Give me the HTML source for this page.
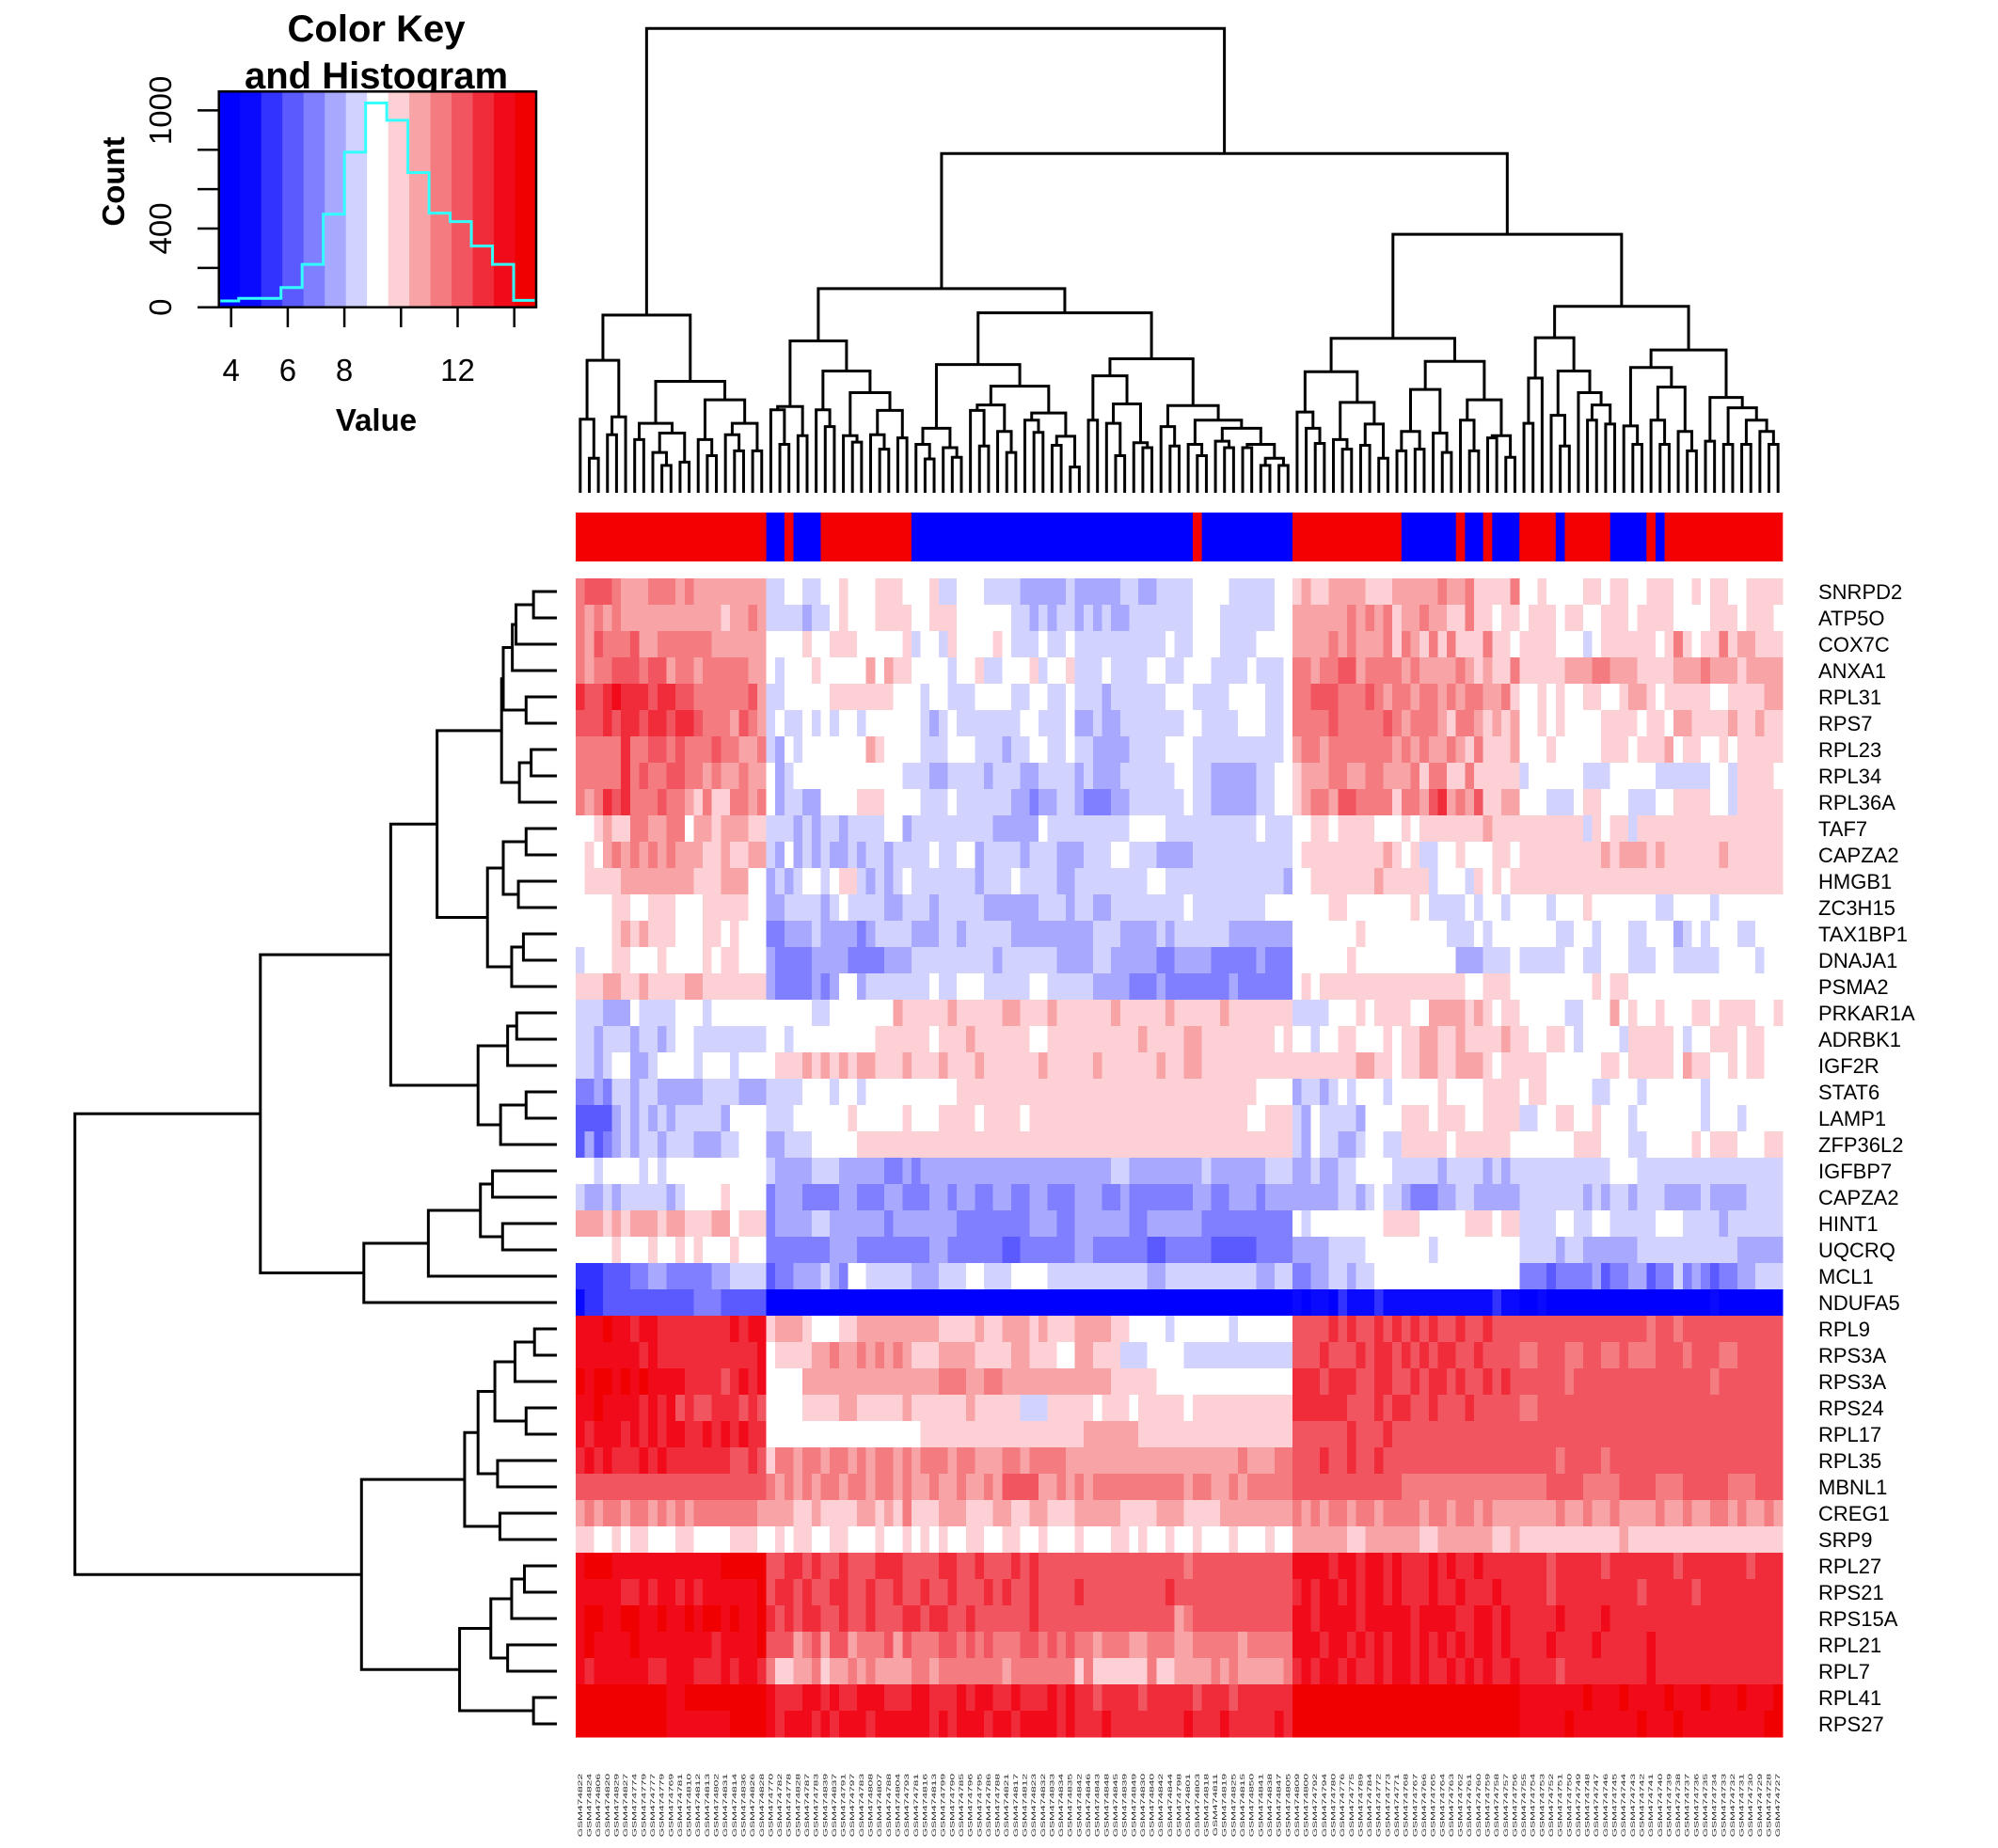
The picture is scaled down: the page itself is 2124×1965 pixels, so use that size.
<!DOCTYPE html>
<html><head><meta charset="utf-8"><title>Heatmap</title>
<style>html,body{margin:0;padding:0;background:#fff}svg{display:block;font-family:"Liberation Sans",Arial,sans-serif}</style>
</head><body>
<svg id="chart" xmlns="http://www.w3.org/2000/svg" width="2124" height="1965" viewBox="0 0 2124 1965">
<rect width="2124" height="1965" fill="#fff"/>
<g id="key">
  <text x="400" y="44" font-size="40" font-weight="bold" text-anchor="middle">Color Key</text>
  <text x="400" y="94" font-size="40" font-weight="bold" text-anchor="middle">and Histogram</text>
  <g id="keyBands"></g>
  <g id="keyHist"></g>
  <rect x="232.7" y="97.3" width="337.3" height="229.4" fill="none" stroke="#000" stroke-width="2.5"/>
  <g id="keyAxes"></g>
  <text x="400" y="458" font-size="33" font-weight="bold" text-anchor="middle">Value</text>
  <text transform="translate(132,193) rotate(-90)" font-size="33" font-weight="bold" text-anchor="middle">Count</text>
</g>
<g id="colDendro"></g>
<g id="colBar"></g>
<g id="rowDendro"></g>
<g id="cells" shape-rendering="crispEdges"></g>
<g id="rowLabs"></g>
<g id="colLabs"></g>
</svg>
<script>
// ---------- data ----------
const histCounts = [32,45,45,100,218,473,788,1038,950,684,478,435,311,218,35];
const breakStart = 3.57;
const breakStep = 0.747;
const bandColors = ["#0000ff","#0a0aff","#3333ff","#5a5aff","#7f7fff","#a8a8ff","#d2d2ff","#ffffff","#fcd0d4","#f8a3a6","#f47b7f","#f05560","#f02c3a","#f00a1a","#f00000"];
const xTickValues = [4,6,8,10,12,14];
const xTickLabels = ["4","6","8","","12",""];
const yTickValues = [0,200,400,600,800,1000];
const yTickLabels = ["0","","400","","","1000"];

const rowNames = ["SNRPD2","ATP5O","COX7C","ANXA1","RPL31","RPS7","RPL23","RPL34","RPL36A","TAF7","CAPZA2","HMGB1","ZC3H15","TAX1BP1","DNAJA1","PSMA2","PRKAR1A","ADRBK1","IGF2R","STAT6","LAMP1","ZFP36L2","IGFBP7","CAPZA2","HINT1","UQCRQ","MCL1","NDUFA5","RPL9","RPS3A","RPS3A","RPS24","RPL17","RPL35","MBNL1","CREG1","SRP9","RPL27","RPS21","RPS15A","RPL21","RPL7","RPL41","RPS27"];
const segLengths = [21,16,18,24,12,13,29];
const rowLevels = [
"abbba999aaa9a99999999|6677667787778887|778667776666555556|555556655666677776666677|898899998889|9999a99a8888a|77877778878877888778788778888",
"a9a9a99999999999899a9|6666566787778888|778887777776656566|565655666666677766666677|999999a9a9a8|99a9988a88788|78887887788878888777788878887",
"a9baaab99aaaaaa999999|7777877888777778|677687777876667667|666666666676677766667777|9999a9a999a8|a98a8a888a887|88887776788888878a8788a899888",
"a9aabbbabb9aa9aaaaa99|7677787777797988|777767786677786778|666766667766777666676667|aa9aabb9aaaa|9a9999a98988a|88888999aa9998888999a99989999",
"cbbcdcccbccbbaaaaaab9|6677777888888877|767766677776677667|666566666677766667777667|aabbbaaaba9a|a9aa9a9aa99a8|77878778877899878888877888899",
"bbbcbccbccbccbaaa9ba9|6766767677677777|765676666666776667|556556666666776666777667|aaaabaaaaaba|9aaa98aa98989|77878777788887887998888988988",
"aaaaacaabbabaaabaa99a|6576777777798777|766677766656677667|665555666677766666666667|9aa9aaaaaaa9|a9a99a98a8889|77787777788878889788778788888",
"aaaaacabaabbaa9a99a99|7567777777777776|665566665666556666|565556666667766555556677|8999aa99aa99|9a8aa88a88888|67777776667777766666677688887",
"a9acbcaaabaa98a88aa9a|7566557777888777|766676666665545566|544455666666766555556677|89aa9bbaaaa8|aa9bc9a9b8899|77766678877766677888877688888",
"778988aa99aa799899988|6665656656666775|666666666555557666|666666777766666666667666|778878888777|8788888889888|88888886878868888888888888888",
"7879a9a9a9a999889889|6575656556566566|667667756666566655|566677666555566666666666|788888888898|7866778777887|88888888898999898888889888888",
"7888899999999888999778|5656776788656567|666666656667666655|666666667766666666666665|778888888988|8886777687878|88888888888888888888888888888",
"777788778887778888877|5566665676666556|665666665555556665|665566666666766666666777|777788777777|7876666767767|77767778777777766777767777777",
"777789898887778878777|4455565555456666|555665666665555555|556665555656666665555555|777777787777|7777766676777|77776677677766777567677766777",
"677788777877778788777|5444455554444555|666666666566666655|556655555445555444445444|777777877777|7777775556667|66666776677766677666667777677",
"888998898888998888888|5444454577566666|667667776666677666|665555444544444445444444|787888888888|8888888778887|77777777878877777777777777777",
"666555766667776777777|7777766777777798|888898888899888988|888898888898888898888888|666677787888|8779999898788|77777667779787787778878888778",
"665666566567766666666|7767777777778888|887888988888877888|888888898888998888888878|776778877787|8899889888898|87788767777688888767788878877",
"665677556777767776777|7888989898998889|888988898888889888|889888888988998888888888|888888899887|8899889998788|88877777788788888798877878877",
"445466566555556666555|6666777677677777|777778888888888888|888888888888888888887777|566567677767|7777877778888|78877777667776777777677777777",
"333356565656666657777|6667777778777778|777888878888788888|888888888888888888877888|657666657777|8887888778888|66778877877767777777677767777",
"353456566566655566777|5566677777888888|888888888888888888|888888888888888888888888|657665567766|8888878888887|77777788877766777778788877788",
"776777767677777777777|6555566655555445|455555555555555555|555566555555556555555666|556556677776|6666566665656|66666666667776666666666666666",
"655656666656777787777|4555444455444554|445545544554455444|555445444444455445554555|555556656766|5444556655555|66666665656656665555655556666",
"999898999899888997888|4555566555555455|555554444444455544|555555445555554444444444|767777777788|8877777888788|66667766776666677766665666666",
"777787778778787778777|4444444555444444|445544444433444444|554444443344444333334444|555566667777|7776777777777|66665665555556666666666655555",
"222333445544444556666|3445556547766666|555666776667777666|666666665566666666665566|445566566777|7777777777777|44434444534455344645434455666",
"122333333333344433333|0000000000000000|000000000000000000|000000000000000000000000|101102111211|1111111111211|00100000000000000000010000000",
"dddeddcddccccccccdcdd|8999877788999999|999888898899989888|999988777767777776777777|bbbbcbcbbcbc|bcbcbbcbbcbbb|bbbbbbbbbbbbbbabbabbbbbbbbbbb",
"dddddddcdcccccccccccd|7888899a99a9a9a9|888999988889988877|998886667777666666666666|bbbcbbbcbccb|cbcbccbbcbbbb|aabbbaabbaabaaabbbabbbaabbbbb",
"edeedededdddccccbcdcd|7777999999999999|999aaa99aa99999999|999988888777777777777777|cccbcccbbccb|bcbccbcbbcbcb|bbbbbabbbbbbbbbbbbbbbabbbbbbb",
"ddeddddcdcdbcbbcccbcb|7777888899888889|888888988888666888|887888788888788888888888|ccccccbbbcbc|cbbcbbbcbbbbb|aabbbbbbbbbbbbbbbbbbbbbbbbbbb",
"dcdddcdcdcddccdcdcdcc|7777777777777777|788888888888888888|899999988888888888888888|bbbbbbcbbbcb|bbbbbbbbbbbbb|bbbbbbbbbbbbbbbbbbbbbbbbbbbbb",
"cdcdcccdcdcccccccbbcb|8aa9aa9aa9a9aa9a|9aaa9aa999aa9aaaa9|999999999999999999a999aa|bbbcbbcbbcbb|bbbbbbbbbbbbb|bbbbabbbbabbbbbbbbbbbbbbbbbbb",
"bbbbbbbbbbbbbbbbbbbbb|a9a9a9aa9aa9aa9a|99a99a99a9bbbb99a9|a9aaaaaaaaaa9aa99a9aaaaa|bbbbbbbbbbbb|aaaaaaaaaaaaa|aaabbbbaaaabbbbaaabbbbbaaabbb",
"9a9aa9aa9a9a9aaaaaaa9|999889888899898a|888999888998899888|999998888999888899999999|a9a9aa9aa9aa|aa9aa9aa9a999|9999a99a99a9999a99a99aa9a99a9",
"887787887778877778887|7878877887778778|787877887788778777|877788787787787778777877|999999889999|9988999999889|88888888888988888888888888888",
"deeeddddddddddddeeeee|bbccbcbbcbbbcccb|bbbccbbcbbbcbcbbbb|bbbbbbbbbbbbabbbbbbbbbbb|ddddcddcddcd|cccdcdccdcccc|cccbcccccbcccccccbcccccccbccc",
"dddddccdcddcdcdddddde|bccbcbbccbbcbbcb|bcbbcbbbcbcbbcbbbb|cbbbbbbbbbcbbbbbbbbbbbbb|cdcddcdcddcd|cccdccdcccdcc|cccbcccccccccbcccccbccccccccc",
"deeddeeddeddedeededde|cbcbccbbcbbcbbbc|cbccbbcbbbbbbcbbbb|bbbbbbbbbbb9abbbbbbbbbbb|ddcddddcdddd|dcddddccddcdc|ccccdccccdccccccccccccccccccc",
"deddddeddddddddcdddde|bbb9ab9bb9aaab9b|aaabbababaaabbabab|aa9aaa99aaa99aaaaa9aaaaa|dddcddcdcdcd|dcdcdcdcddcdc|cccdccccdcccccdcccccccccccccc",
"dcddddddccdddcccdcddc|a8899a899a9a9999|aa9aaaaaaa9aaaaaaa|8a888888a889999a9a99999a|cdcddcdccdcd|dcdccdcdcdccd|ccccbcccccccccdcccccccccccccc",
"eeeeeeeeeeddeeeeeeeee|dcccddcdccdddccc|ddcccdcddccdcccdcd|ccbccccbcccccbcccbcccccc|eeeeeeeeeeee|eeeeeeeeeeeee|dddddddedddeddddedddedddeddde",
"eeeeeeeeeedddddddeeee|dcdddcdcdddcdddd|ddcdcdddcddcddddcd|cccdccccccccdcccdcccccdc|eeeeeeeeeeee|eeeeeeeeeeeee|dddddedddddddedddeddddddddde"
];
const groupRuns = [["R",21],["B",2],["R",1],["B",3],["R",10],["B",31],["R",1],["B",10],["R",12],["B",6],["R",1],["B",2],["R",1],["B",3],["R",4],["B",1],["R",5],["B",4],["R",1],["B",1],["R",13]];
const colSuffixes = ("822 824 806 820 829 827 774 779 777 779 769 781 810 812 813 802 831 814 836 "+
"826 828 770 782 778 828 787 783 839 837 791 797 783 808 807 788 804 793 781 "+
"816 813 799 790 785 796 795 786 788 821 817 812 823 832 833 834 835 842 846 "+
"843 848 845 839 849 830 840 842 844 798 801 803 818 811 819 825 815 850 841 "+
"838 847 805 809 800 792 794 780 776 775 789 784 772 773 771 768 767 766 765 "+
"764 763 762 761 760 759 758 757 756 755 754 753 752 751 750 749 748 747 746 "+
"745 744 743 742 741 740 739 738 737 736 735 734 733 732 731 730 729 728 727").split(" ");
const colTree = [88,
 [975,
  [1115,[1297,0,[1418,0,0]],[1290,[1345,0,0],0]],
  [1180,[1310,[1360,0,0],[1340,[1400,0,[1440,0,0]],[1430,0,0]]],
        [1237,[1360,0,[1410,0,0]],[1310,[1345,0,[1395,0,0]],[1395,0,0]]]]],
 [475,
  [893,
   [1055,[1258,[1268,0,[1375,0,0]],[1348,0,0]],
         [1148,[1268,0,[1320,0,0]],[1215,[1348,0,[1368,0,0]],[1270,[1345,0,[1390,0,0]],[1355,0,0]]]]],
   [968,
    [1128,[1325,[1375,0,[1420,0,0]],[1385,0,[1415,0,0]]],
          [1195,[1253,[1270,0,[1380,0,0]],[1335,0,[1400,0,0]]],[1278,[1300,0,[1338,0,0]],[1350,[1378,0,0],[1445,0,0]]]]],
    [1110,[1163,[1300,0,0],[1250,[1310,0,[1410,0,0]],[1370,0,[1385,0,0]]]],
          [1255,[1320,0,[1380,0,0]],[1300,[1375,0,[1410,0,0]],[1325,[1365,0,[1385,0,0]],[1375,[1385,0,0],[1418,[1440,0,0],[1440,0,0]]]]]]]]],
  [725,
   [1047,
    [1150,[1275,0,[1325,0,[1372,0,0]]],[1245,[1360,0,[1390,0,0]],[1312,[1378,0,0],[1418,0,0]]]],
    [1118,[1205,[1335,[1395,0,0],[1390,0,0]],[1340,0,[1400,0,0]]],[1237,[1300,0,[1395,0,0]],[1348,[1355,0,0],[1415,0,0]]]]],
   [948,
    [1045,[1170,[1310,0,0],0],[1148,[1285,0,[1380,0,0]],[1215,0,[1253,[1300,0,0],[1312,0,0]]]]],
    [1083,[1137,[1318,0,[1375,0,0]],[1198,[1300,0,[1375,0,0]],[1335,0,[1395,0,0]]]],
          [1230,[1365,0,0],[1262,[1375,0,0],[1300,[1375,0,0],[1335,0,[1375,0,0]]]]]]]]]];
const rowTree = [55,
 [607,
  [995,
   [1133,
    [1325,[1330,[1357,[1368,[1420,0,0],0],0],[1398,0,0]],[1378,[1413,0,0],0]],
    [1283,[1330,[1398,0,0],[1375,0,0]],[1355,[1390,0,0],0]]],
   [1255,[1343,[1370,0,0],0],[1322,[1398,0,0],0]]],
  [915,[1107,[1262,[1298,0,0],[1328,0,0]],0],0]],
 [908,
  [1215,[1255,[1305,[1365,[1423,0,0],0],[1398,0,0]],[1313,0,0]],[1320,0,0]],
  [1200,[1293,[1355,[1393,0,0],0],[1343,0,0]],[1420,0,0]]]];

// ---------- geometry ----------
const NS = "http://www.w3.org/2000/svg";
const HX0 = 612, HX1 = 1895, HY0 = 615, HY1 = 1847;
const KX0 = 232.7, KX1 = 570, KY0 = 97.3, KY1 = 326.7;
const nCols = 133, nRows = rowNames.length;
const cw = (HX1 - HX0) / nCols, rh = (HY1 - HY0) / nRows;
const keyX = v => 245.7 + (v - 4) * 30.1;
const keyY = c => KY1 - c * 0.2093;
const colX = i => HX0 + cw * (i + 0.5);
const rowY = j => HY0 + rh * (j + 0.5);
const colMergeY = z => z / 2.91;
const rowMergeX = z => 60 + z / 2.8;
function mk(tag, attrs, parent) { const e = document.createElementNS(NS, tag); for (const k in attrs) e.setAttribute(k, attrs[k]); parent.appendChild(e); return e; }
function levelValue(ch) { const L = parseInt(ch, 16); return breakStart + breakStep * (L + 0.5); }
function valueColor(v) { let b = Math.floor((v - breakStart) / breakStep); b = Math.max(0, Math.min(bandColors.length - 1, b)); return bandColors[b]; }

// ---------- key ----------
const kb = document.getElementById("keyBands");
bandColors.forEach((c, i) => {
  const a = Math.max(KX0, keyX(breakStart + i * breakStep));
  const b = i === bandColors.length - 1 ? KX1 : keyX(breakStart + (i + 1) * breakStep);
  const r = mk("rect", {x: a, y: KY0, width: b - a + 0.5, height: KY1 - KY0, fill: c}, kb);
  
  
});
let hp = "";
histCounts.forEach((c, i) => {
  const a = Math.max(KX0 + 1.5, keyX(breakStart + i * breakStep) - 1.5), b = Math.min(KX1 - 1.5, keyX(breakStart + (i + 1) * breakStep) - 1.5);
  hp += (i === 0 ? "M" : "L") + a + "," + keyY(c) + " L" + b + "," + keyY(c) + " ";
});
const hl = mk("path", {d: hp, fill: "none", stroke: "#33ffff", "stroke-width": 3}, document.getElementById("keyHist"));


const ka = document.getElementById("keyAxes");
xTickValues.forEach((v, i) => {
  const t = mk("line", {x1: keyX(v), x2: keyX(v), y1: KY1, y2: 348, stroke: "#000", "stroke-width": 2.5}, ka);
  
  
  if (xTickLabels[i]) {
    const tx = mk("text", {x: keyX(v), y: 405, "font-size": 33, "text-anchor": "middle"}, ka);
    tx.textContent = xTickLabels[i];
    
    
  }
});
yTickValues.forEach((v, i) => {
  const t = mk("line", {x1: 210, x2: KX0, y1: keyY(v), y2: keyY(v), stroke: "#000", "stroke-width": 2.5}, ka);
  
  
  if (yTickLabels[i]) {
    const tx = mk("text", {transform: "translate(182," + keyY(v) + ") rotate(-90)", "font-size": 33, "text-anchor": "middle"}, ka);
    tx.textContent = yTickLabels[i];
    
    
  }
});

// ---------- heatmap ----------
const cg = document.getElementById("cells");
rowLevels.forEach((rowStr, j) => {
  const segs = rowStr.split("|");
  let codes = "";
  segLengths.forEach((n, s) => { let t = segs[s] || "7"; while (t.length < n) t += t[t.length - 1]; codes += t.slice(0, n); });
  for (let i = 0; i < nCols; i++) {
    const v = levelValue(codes[i]);
    const r = mk("rect", {x: (HX0 + cw * i).toFixed(2), y: (HY0 + rh * j).toFixed(2), width: (cw + 0.4).toFixed(2), height: (rh + 0.4).toFixed(2), fill: valueColor(v)}, cg);
    
    
  }
});
const rl = document.getElementById("rowLabs");
rowNames.forEach((n, j) => {
  const t = mk("text", {x: 1933, y: rowY(j) + 8, "font-size": 22}, rl);
  t.textContent = n;
  
  
});
const cb = document.getElementById("colBar");
let ci = 0;
groupRuns.forEach(([g, n]) => {
  const r = mk("rect", {x: (HX0 + cw * ci).toFixed(2), y: 545, width: (cw * n + 0.3).toFixed(2), height: 52, fill: g === "R" ? "#f50000" : "#0000ff"}, cb);
  
  
  ci += n;
});
const cl = document.getElementById("colLabs");
for (let i = 0; i < nCols; i++) {
  const t = mk("text", {transform: "translate(" + (colX(i) + 2).toFixed(2) + ",1886) rotate(-90) scale(1,0.5)", "font-size": 12, "text-anchor": "end", fill: "#222"}, cl);
  t.textContent = "GSM474" + (colSuffixes[i] || "800");
  
  
}
// ---------- dendrograms ----------
const cd = document.getElementById("colDendro");
let leafC = 0;
function drawCol(node) {
  if (node === 0) { const x = colX(leafC++); return {x: x, y: 524}; }
  const a = drawCol(node[1]), b = drawCol(node[2]), y = colMergeY(node[0]);
  const p = mk("path", {d: "M" + a.x + "," + a.y + "V" + y + "H" + b.x + "V" + b.y, fill: "none", stroke: "#000", "stroke-width": 3}, cd);
  
  
  return {x: (a.x + b.x) / 2, y: y};
}
drawCol(colTree);
const rd = document.getElementById("rowDendro");
let leafR = 0;
function drawRow(node) {
  if (node === 0) { const y = rowY(leafR++); return {x: 592, y: y}; }
  const a = drawRow(node[1]), b = drawRow(node[2]), x = rowMergeX(node[0]);
  const p = mk("path", {d: "M" + a.x + "," + a.y + "H" + x + "V" + b.y + "H" + b.x, fill: "none", stroke: "#000", "stroke-width": 3}, rd);
  
  
  return {x: x, y: (a.y + b.y) / 2};
}
drawRow(rowTree);
</script>
</body></html>
